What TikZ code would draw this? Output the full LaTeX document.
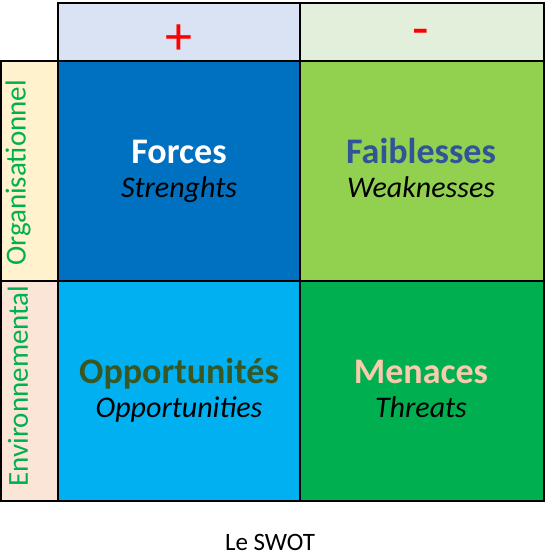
\documentclass[tikz,border=0pt]{standalone}
\usepackage{fontspec}
\setmainfont{Carlito}
\definecolor{hdrplus}{HTML}{DAE3F3}
\definecolor{hdrminus}{HTML}{E2EFDA}
\definecolor{orgfill}{HTML}{FFF2CC}
\definecolor{envfill}{HTML}{FBE5D6}
\definecolor{forcesc}{HTML}{0070C0}
\definecolor{faibc}{HTML}{92D050}
\definecolor{oppc}{HTML}{00B0F0}
\definecolor{menc}{HTML}{00B050}
\definecolor{faibtext}{HTML}{2F5597}
\definecolor{opptext}{HTML}{385723}
\definecolor{mentext}{HTML}{F8CBAD}
\definecolor{sidegreen}{HTML}{00B050}
\definecolor{signred}{HTML}{FF0000}
\begin{document}
\begin{tikzpicture}[x=1pt,y=-1pt,
  cellbox/.style={draw=black,line width=1.4pt,inner sep=0pt,outer sep=0pt},
  title/.style={font=\fontsize{36}{40}\selectfont\bfseries,anchor=base,inner sep=0pt},
  subtitle/.style={font=\fontsize{30}{34}\selectfont\itshape,anchor=base,inner sep=0pt,text=black},
  sidelabel/.style={font=\fontsize{29}{32}\selectfont,text=sidegreen,rotate=90,inner sep=0pt},
  sign/.style={font=\fontsize{54}{58}\selectfont,text=signred,inner sep=0pt,anchor=base}]
\useasboundingbox (0,0) rectangle (548,560);
% header
\node[cellbox,fill=hdrplus,minimum width=242pt,minimum height=58pt] (hp) at (179,32) {};
\node[cellbox,fill=hdrminus,minimum width=244pt,minimum height=58pt] (hm) at (422,32) {};
% side
\node[cellbox,fill=orgfill,minimum width=57pt,minimum height=220pt] (org) at (29.5,171) {};
\node[cellbox,fill=envfill,minimum width=57pt,minimum height=220pt] (env) at (29.5,391) {};
% cells
\node[cellbox,fill=forcesc,minimum width=242pt,minimum height=220pt] (S) at (179,171) {};
\node[cellbox,fill=faibc,minimum width=244pt,minimum height=220pt] (W) at (422,171) {};
\node[cellbox,fill=oppc,minimum width=242pt,minimum height=220pt] (O) at (179,391) {};
\node[cellbox,fill=menc,minimum width=244pt,minimum height=220pt] (T) at (422,391) {};
% signs
\node[sign] (plus) at (179,54) {+};
\node[sign] (minus) at (421,46) {-};
% side labels
\node[sidelabel] (orgl) at (18,173) {Organisationnel};
\node[sidelabel] (envl) at (18,386) {Environnemental};
% titles
\node[title,text=white] (St) at (179,163) {Forces};
\node[subtitle] (Ss) at (179,197) {Strenghts};
\node[title,text=faibtext] (Wt) at (421,163) {Faiblesses};
\node[subtitle] (Ws) at (421,197) {Weaknesses};
\node[title,text=opptext] (Ot) at (179,383) {Opportunités};
\node[subtitle] (Os) at (179,417) {Opportunities};
\node[title,text=mentext] (Tt) at (421,383) {Menaces};
\node[subtitle] (Ts) at (421,417) {Threats};
% caption
\node[font=\fontsize{25}{28}\selectfont,anchor=base,inner sep=0pt] (cap) at (270,550) {Le SWOT};
\end{tikzpicture}
\end{document}
